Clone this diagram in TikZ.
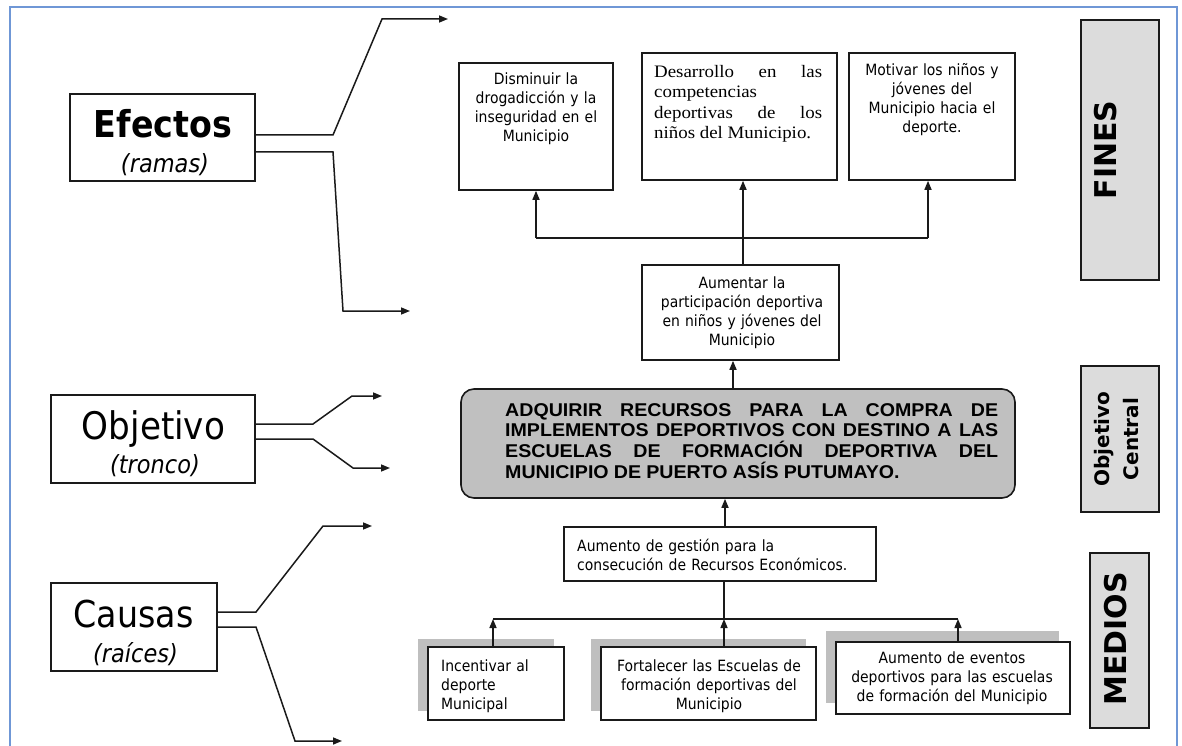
\documentclass[tikz,border=0pt]{standalone}
\usepackage{fontspec}
\usetikzlibrary{arrows.meta}
\newfontfamily\tah{DejaVu Sans}[FakeStretch=0.9]
\newfontfamily\dvs{DejaVu Sans}
\newfontfamily\ari{Liberation Sans}[FakeStretch=1.06]
\newfontfamily\tim{Liberation Serif}[FakeStretch=1.08]
\definecolor{frameblue}{HTML}{6F97D6}
\definecolor{lblgray}{HTML}{DCDCDC}
\definecolor{objgray}{HTML}{C0C0C0}
\definecolor{shadowgray}{HTML}{BFBFBF}
\definecolor{ink}{HTML}{1A1A1A}
\tikzset{
  box/.style={draw=ink, line width=1.6pt, fill=white, inner sep=0pt, rectangle},
  lblbox/.style={box, fill=lblgray},
  conn/.style={draw=ink, line width=1.5pt},
  arr/.style={conn, -{Triangle[length=9pt,width=7pt]}},
  txt/.style={inner sep=0pt, anchor=base, align=center, text=black,
    font=\tah\fontsize{15.5pt}{19pt}\selectfont},
  txtl/.style={txt, anchor=base west, align=left},
  bigl/.style={inner sep=0pt, anchor=base, text=black},
  shadow/.style={fill=shadowgray},
}
\begin{document}
\begin{tikzpicture}[x=1pt,y=-1pt]
\useasboundingbox (0,0) rectangle (1182,746);
\fill[white] (0,0) rectangle (1182,746);
% frame
\draw[frameblue, line width=1.6pt] (10,746) -- (10,7) -- (1177,7) -- (1177,746);

% left labels
\node[box, minimum width=185pt, minimum height=87pt] (ef) at (162.5,137.5) {};
\node[bigl, font=\tah\bfseries\fontsize{37pt}{40pt}\selectfont] (eft) at (163,138) {Efectos};
\node[bigl, font=\tah\itshape\fontsize{25pt}{28pt}\selectfont] (efs) at (165,172) {(ramas)};

\node[box, minimum width=204pt, minimum height=88pt] (ob) at (153,439) {};
\node[bigl, font=\tah\fontsize{38pt}{40pt}\selectfont] (obt) at (153.5,439) {Objetivo};
\node[bigl, font=\tah\itshape\fontsize{25pt}{28pt}\selectfont] (obs) at (155,473) {(tronco)};

\node[box, minimum width=166pt, minimum height=88pt] (ca) at (134,627) {};
\node[bigl, font=\tah\fontsize{37pt}{40pt}\selectfont] (cat) at (133.5,627) {Causas};
\node[bigl, font=\tah\itshape\fontsize{25pt}{28pt}\selectfont] (cas) at (135.5,662) {(raíces)};

% branch ends
\coordinate (e1) at (448,19);
\coordinate (e2) at (410,311);
\coordinate (o1) at (382,396);
\coordinate (o2) at (390,468);
\coordinate (c1) at (372,526);
\coordinate (c2) at (342,741);
\draw[arr] ([yshift=2.5pt]ef.east) -- (333,135) -- (382,19) -- (e1);
\draw[arr] ([yshift=-14.5pt]ef.east) -- (333,152) -- (343,311) -- (e2);
\draw[arr] ([yshift=15pt]ob.east) -- (313,424) -- (352,396) -- (o1);
\draw[arr] (ob.east) -- (313,439) -- (353,468) -- (o2);
\draw[arr] ([yshift=15pt]ca.east) -- (256,612) -- (323,526) -- (c1);
\draw[arr] (ca.east) -- (256,627) -- (295,741) -- (c2);

% right side labels
\node[lblbox, minimum width=78pt, minimum height=260pt] (fines) at (1120,150) {};
\node[inner sep=0pt, rotate=90, font=\dvs\bfseries\fontsize{30pt}{32pt}\selectfont] (finest) at (1106,150) {FINES};
\node[lblbox, minimum width=78pt, minimum height=146pt] (oc) at (1120,439) {};
\node[inner sep=0pt, rotate=90, align=center, font=\dvs\bfseries\fontsize{20pt}{29pt}\selectfont] (oct) at (1117,439) {Objetivo\\Central};
\node[lblbox, minimum width=59pt, minimum height=175pt] (medios) at (1119.5,640.5) {};
\node[inner sep=0pt, rotate=90, font=\dvs\bfseries\fontsize{30pt}{32pt}\selectfont] (mediost) at (1116,639) {MEDIOS};

% fines boxes
\node[box, minimum width=154pt, minimum height=127pt] (f1) at (536,126.5) {};
\node[txt, text width=150pt] (f1t) at (536,85) {Disminuir la\\drogadicción y la\\inseguridad en el\\Municipio};
\node[box, minimum width=195pt, minimum height=127pt] (f2) at (739.5,116.5) {};
\node[inner sep=0pt, anchor=base west, text width=168pt, align=justify, text=black,
  font=\tim\fontsize{17.5pt}{20.3pt}\selectfont] (f2t) at (654,77.5)
  {Desarrollo en las\linebreak competencias\newline deportivas de los\linebreak niños del Municipio.};
\node[box, minimum width=166pt, minimum height=127pt] (f3) at (932,116.5) {};
\node[txt, text width=160pt] (f3t) at (932,76) {Motivar los niños y\\jóvenes del\\Municipio hacia el\\deporte.};

% aumentar
\node[box, minimum width=197pt, minimum height=95pt] (aum) at (740.5,312.5) {};
\node[txt, text width=190pt] (aumt) at (742,288) {Aumentar la\\participación deportiva\\en niños y jóvenes del\\Municipio};

% objective
\node[draw=ink, line width=1.6pt, fill=objgray, rounded corners=13pt, inner sep=0pt,
  minimum width=554pt, minimum height=109pt] (obj) at (738,443.5) {};
\node[inner sep=0pt, anchor=base west, text width=493pt, align=justify, text=black,
  font=\ari\bfseries\fontsize{18.5pt}{20.7pt}\selectfont] (objt) at (505,416)
  {\spaceskip=0.28em plus 3em ADQUIRIR RECURSOS PARA LA COMPRA DE\linebreak
   IMPLEMENTOS DEPORTIVOS CON DESTINO A LAS\linebreak
   ESCUELAS DE FORMACIÓN DEPORTIVA DEL\linebreak
   MUNICIPIO DE PUERTO ASÍS PUTUMAYO.};

% gestion
\node[box, minimum width=312pt, minimum height=54pt] (gest) at (720,554) {};
\node[txtl, text width=300pt] (gestt) at (577,551) {Aumento de gestión para la\\consecución de Recursos Económicos.};

% medios boxes
\fill[shadow] (418,639) rectangle (554,711);
\fill[shadow] (591,639) rectangle (806,711);
\fill[shadow] (826,631) rectangle (1059,703);
\node[box, minimum width=136pt, minimum height=73pt] (m1) at (496,683.5) {};
\node[txtl, text width=120pt] (m1t) at (441,671) {Incentivar al\\deporte\\Municipal};
\node[box, minimum width=215pt, minimum height=73pt] (m2) at (708.5,683.5) {};
\node[txt, text width=205pt] (m2t) at (709,671) {Fortalecer las Escuelas de\\formación deportivas del\\Municipio};
\node[box, minimum width=234pt, minimum height=72pt] (m3) at (953,678) {};
\node[txt, text width=225pt] (m3t) at (952,663) {Aumento de eventos\\deportivos para las escuelas\\de formación del Municipio};

% connectors fines
\coordinate (fl) at (536,238);
\coordinate (fj) at (743,238);
\coordinate (fr) at (928,238);
\draw[conn] (aum.north -| fj) -- (fj);
\draw[conn] (fl) -- (fr);
\draw[arr] (fl) -- (f1.south -| fl);
\draw[arr] (fj) -- (f2.south -| fj);
\draw[arr] (fr) -- (f3.south -| fr);
\coordinate (ox) at (733,0);
\draw[arr] (obj.north -| ox) -- (aum.south -| ox);
\coordinate (gx) at (725,0);
\draw[arr] (gest.north -| gx) -- (obj.south -| gx);

% connectors medios
\coordinate (ml) at (493,619);
\coordinate (mj) at (724,619);
\coordinate (mr) at (958,619);
\draw[conn] (ml) -- (mr);
\draw[conn] (mj) -- (gest.south -| mj);
\draw[arr] (m1.north -| ml) -- (ml);
\draw[arr] (m2.north -| mj) -- (mj);
\draw[arr] (m3.north -| mr) -- (mr);
\end{tikzpicture}
\end{document}
